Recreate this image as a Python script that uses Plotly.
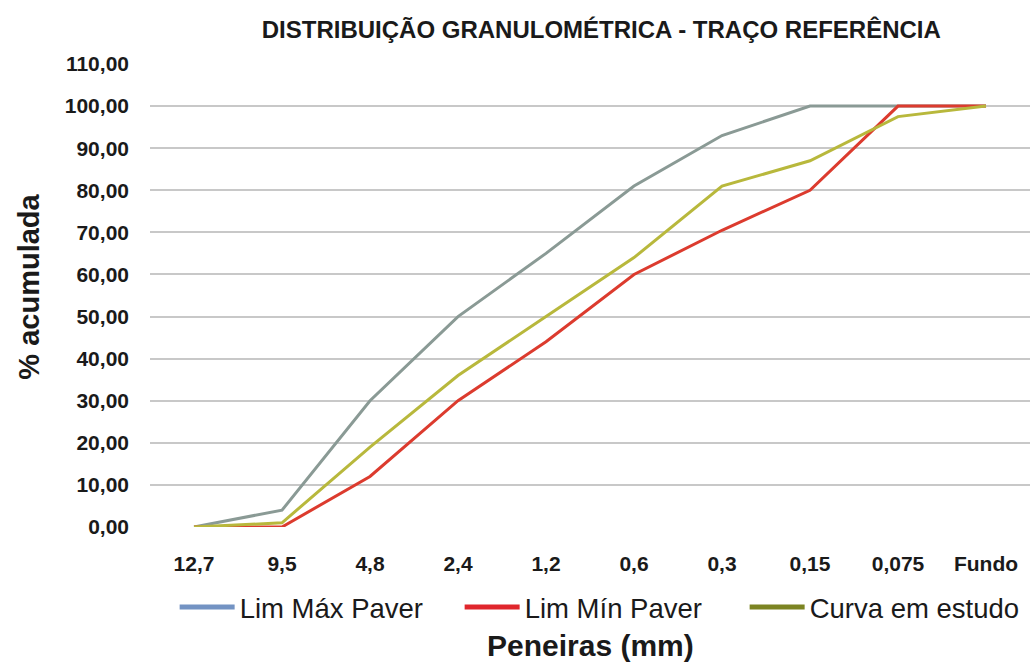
import plotly.graph_objects as go

peneiras = ["12,7", "9,5", "4,8", "2,4", "1,2", "0,6", "0,3", "0,15", "0,075", "Fundo"]
lim_max = [0, 4, 30, 50, 65, 81, 93, 100, 100, 100]
lim_min = [0, 0, 12, 30, 44, 60, 70.5, 80, 100, 100]
curva = [0, 1, 19, 36, 50, 64, 81, 87, 97.5, 100]

series = [
    ("Lim Máx Paver", lim_max, "#8a9a95", "#7393c3"),
    ("Lim Mín Paver", lim_min, "#dc3b2e", "#e0262c"),
    ("Curva em estudo", curva, "#b8b83c", "#7c8422"),
]

fig = go.Figure()
for name, vals, lc, sc in series:
    fig.add_trace(go.Scatter(x=peneiras, y=vals, mode="lines", name=name,
                             line=dict(color=lc, width=3), showlegend=False,
                             legendgroup=name))
for name, vals, lc, sc in series:
    fig.add_trace(go.Scatter(x=[None], y=[None], mode="lines", name=name,
                             line=dict(color=sc, width=5), legendgroup=name))

sans = "Liberation Sans, Arial"
fig.update_layout(
    width=1035, height=662,
    margin=dict(l=150, r=5, t=64, b=135),
    paper_bgcolor="white", plot_bgcolor="white",
    separators=",.",
    showlegend=True,
    legend=dict(orientation="h", x=0.028, y=-0.173, xanchor="left", yanchor="middle",
                font=dict(family=sans, size=27.5, color="#1a1a1a"),
                itemwidth=55, entrywidth=215, entrywidthmode="pixels",
                bgcolor="rgba(0,0,0,0)"),
    title=dict(text="<b>DISTRIBUIÇÃO GRANULOMÉTRICA - TRAÇO REFERÊNCIA</b>",
               x=0.581, xanchor="center", y=0.955, yanchor="middle",
               font=dict(family=sans, size=24, color="#1a1a1a")),
    xaxis=dict(type="category", range=[-0.5, 9.5], showgrid=False, showline=False,
               zeroline=False, ticks="", ticklabelstandoff=22,
               tickfont=dict(family=sans, size=21, color="#1a1a1a", weight="bold")),
    yaxis=dict(range=[0, 110], dtick=10, tick0=0, tickformat=".2f",
               showgrid=True, gridcolor="#c8c8c8", gridwidth=2, zeroline=False,
               showline=False, ticks="", ticklabelstandoff=20,
               tickfont=dict(family=sans, size=21, color="#1a1a1a", weight="bold")),
    annotations=[
        dict(text="<b>Peneiras (mm)</b>", xref="paper", yref="paper", x=0.5, y=-0.255,
             xanchor="center", yanchor="middle", showarrow=False,
             font=dict(family=sans, size=30, color="#1a1a1a")),
        dict(text="<b>% acumulada</b>", xref="paper", yref="paper", x=-0.137, y=0.52,
             xanchor="center", yanchor="middle", showarrow=False, textangle=-90,
             font=dict(family=sans, size=29, color="#1a1a1a")),
    ],
)

fig.write_html("out.html")
